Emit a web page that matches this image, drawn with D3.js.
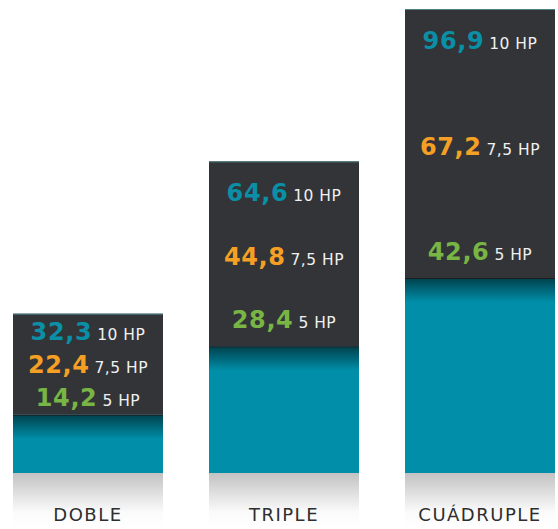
<!DOCTYPE html>
<html>
<head>
<meta charset="utf-8">
<script src="https://cdn.jsdelivr.net/npm/d3@7"></script>
<style>
  body { margin: 0; background: #fff; }
  svg { display: block; }
</style>
</head>
<body>
<svg id="canvas" width="558" height="529"></svg>
<script>
// data
const categories = ['DOBLE', 'TRIPLE', 'CUÁDRUPLE']
const hp10 = [32.3, 64.6, 96.9]
const hp75 = [22.4, 44.8, 67.2]
const hp5 = [14.2, 28.4, 42.6]
const unitLabels = ['10 HP', '7,5 HP', '5 HP']
const seriesColors = ['#0a8fa7', '#f5a024', '#78b545']

const width = 558
const height = 529
const baseY = 473

let canvas = d3.select('#canvas')

let fmt = (v) => d3.format('.1f')(v).replace('.', ',')

let x = d3.scaleBand()
  .domain(categories)
  .range([13, 555])
  .paddingInner(0.2347)
  .paddingOuter(0)

// top of the dark block, driven by the 10 HP value
let yTop = d3.scaleLinear().domain([0, 96.9]).range([466, 9])
// top of the teal block, driven by the 5 HP value
let yTeal = d3.scaleLinear().domain([0, 42.6]).range([483, 278])

let defs = canvas.append('defs')

let shade = defs.append('linearGradient')
  .attr('id', 'tealShade').attr('x1', 0).attr('y1', 0).attr('x2', 0).attr('y2', 1)
shade.append('stop').attr('offset', '0%').attr('stop-color', '#000').attr('stop-opacity', 0.55)
shade.append('stop').attr('offset', '100%').attr('stop-color', '#000').attr('stop-opacity', 0)

let floor = defs.append('linearGradient')
  .attr('id', 'floorShade').attr('x1', 0).attr('y1', 0).attr('x2', 0).attr('y2', 1)
floor.append('stop').attr('offset', '0%').attr('stop-color', '#c2c2c2')
floor.append('stop').attr('offset', '70%').attr('stop-color', '#fafafa')
floor.append('stop').attr('offset', '100%').attr('stop-color', '#ffffff')

let rows = categories.map((c, i) => ({
  cat: c,
  values: [hp10[i], hp75[i], hp5[i]],
  top: yTop(hp10[i]),
  teal: yTeal(hp5[i])
}))

let bars = canvas.selectAll('g.bar')
  .data(rows)
  .enter()
  .append('g')
  .attr('class', 'bar')
  .attr('transform', d => `translate(${x(d.cat)},0)`)

// floor shadow
bars.append('rect')
  .attr('y', baseY)
  .attr('width', x.bandwidth())
  .attr('height', 55)
  .attr('fill', 'url(#floorShade)')

// dark block
bars.append('rect')
  .attr('y', d => d.top)
  .attr('width', x.bandwidth())
  .attr('height', d => d.teal - d.top)
  .attr('fill', '#333437')

bars.append('rect')
  .attr('y', d => d.top)
  .attr('width', x.bandwidth())
  .attr('height', 1)
  .attr('fill', '#4d7f87')

// teal block
bars.append('rect')
  .attr('y', d => d.teal)
  .attr('width', x.bandwidth())
  .attr('height', d => baseY - d.teal)
  .attr('fill', '#008ea8')

bars.append('rect')
  .attr('y', d => d.teal)
  .attr('width', x.bandwidth())
  .attr('height', 24)
  .attr('fill', 'url(#tealShade)')

bars.append('rect')
  .attr('y', d => d.teal)
  .attr('width', x.bandwidth())
  .attr('height', 1)
  .attr('fill', '#1c1d1f')

// value labels inside the dark block
bars.each(function(d) {
  let g = d3.select(this)
  let dh = d.teal - d.top
  let first = d.top + Math.min(40, dh * 0.26)
  let last = d.teal - (dh > 150 ? 18 : 9)
  let pos = d3.scaleLinear().domain([0, 2]).range([first, last])

  d.values.forEach((v, j) => {
    let t = g.append('text')
      .attr('x', x.bandwidth() / 2)
      .attr('y', pos(j))
      .attr('text-anchor', 'middle')
      .style('font-family', '"DejaVu Sans", sans-serif')
    t.append('tspan')
      .text(fmt(v))
      .attr('fill', seriesColors[j])
      .style('font-weight', 'bold')
      .style('font-size', '24px')
      .style('letter-spacing', '0.6px')
    t.append('tspan')
      .text(unitLabels[j])
      .attr('dx', 5)
      .attr('fill', '#f0f0f0')
      .style('font-size', '15.5px')
      .style('letter-spacing', '0.5px')
  })
})

// category labels
bars.append('text')
  .attr('x', x.bandwidth() / 2)
  .attr('y', 521)
  .attr('text-anchor', 'middle')
  .attr('fill', '#2e2e2e')
  .style('font-family', '"DejaVu Sans", sans-serif')
  .style('font-size', '18px')
  .style('letter-spacing', '1.5px')
  .text(d => d.cat)
</script>
</body>
</html>
